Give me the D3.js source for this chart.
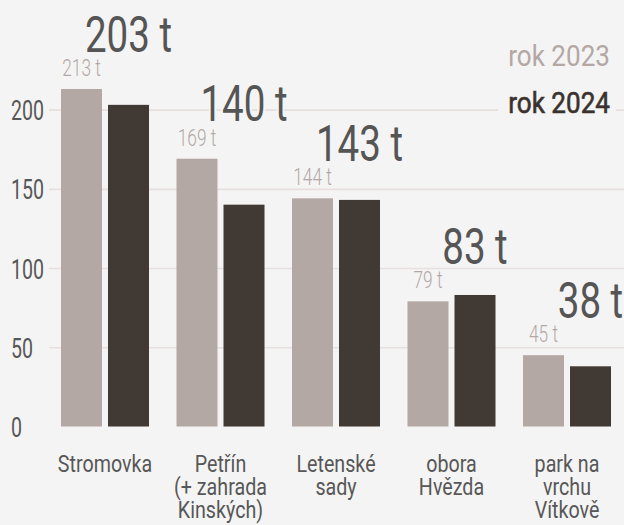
<!DOCTYPE html>
<html>
<head>
<meta charset="utf-8">
<script src="https://cdn.jsdelivr.net/npm/d3@7"></script>
<style>
  html, body { margin: 0; padding: 0; background: #f4f4f4; }
  svg { display: block; }
  text { font-family: Roboto, "Noto Sans", sans-serif; }
</style>
</head>
<body>
<svg id="chart" width="624" height="525"></svg>
<script>
// Park names (one entry per line of the label)
const parks = [
  ["Stromovka"],
  ["Petřín", "(+ zahrada", "Kinských)"],
  ["Letenské", "sady"],
  ["obora", "Hvězda"],
  ["park na", "vrchu", "Vítkově"]
];
// Tonnes per park
const values2023 = [213, 169, 144, 79, 45];
const values2024 = [203, 140, 143, 83, 38];
const years = ["rok 2023", "rok 2024"];
const yTicks = [0, 50, 100, 150, 200];

const colors = { y2023: "#b3a8a4", y2024: "#413934", grid: "#e6dfdd", text: "#575757", bg: "#f4f4f4" };

// Horizontal squeeze per text style, giving Roboto a condensed cut
const squeeze = { axis: 0.7, small: 0.72, big: 0.77, cat: 0.82, legend: 0.9 };

const W = 624, H = 525;
const svg = d3.select("#chart");
svg.append("rect").attr("width", W).attr("height", H).attr("fill", colors.bg);

const keys = parks.map((p, i) => "p" + i);
const rows = keys.map((k, i) => ({ key: k, lines: parks[i], v23: values2023[i], v24: values2024[i] }));

const x0 = d3.scaleBand().domain(keys).range([47.25, 624.75]).paddingInner(0.238).paddingOuter(0.119);
const x1 = d3.scaleBand().domain(["y2023", "y2024"]).range([0, x0.bandwidth()]).paddingInner(0.1277);
const y = d3.scaleLinear().domain([0, 200]).range([426.5, 109.6]);

// Gridlines and tick labels
const axisX = 49;
const yAxis = d3.axisLeft(y).tickValues(yTicks).tickSize(-(W - axisX)).tickPadding(0);
const gAxis = svg.append("g").attr("transform", `translate(${axisX},0)`).call(yAxis);
gAxis.select(".domain").remove();
gAxis.selectAll(".tick line")
  .attr("stroke", colors.grid).attr("stroke-width", 1.6)
  .attr("opacity", d => d === 0 ? 0 : 1);
gAxis.selectAll(".tick text")
  .attr("x", 0).attr("dy", "0.36em")
  .attr("transform", `translate(${11 - axisX},0) scale(${squeeze.axis},1)`)
  .attr("text-anchor", "start")
  .attr("fill", colors.text)
  .style("font-size", "28px");

// Bars
const groups = svg.append("g").selectAll("g").data(rows).join("g")
  .attr("transform", d => `translate(${x0(d.key)},0)`);

groups.append("rect")
  .attr("x", x1("y2023")).attr("width", x1.bandwidth())
  .attr("y", d => y(d.v23)).attr("height", d => y(0) - y(d.v23))
  .attr("fill", colors.y2023);
groups.append("rect")
  .attr("x", x1("y2024")).attr("width", x1.bandwidth())
  .attr("y", d => y(d.v24)).attr("height", d => y(0) - y(d.v24))
  .attr("fill", colors.y2024);

// 2023 value labels
groups.append("text")
  .attr("transform", d => `translate(${x1("y2023") + x1.bandwidth() / 2},${y(d.v23) - 13}) scale(${squeeze.small},1)`)
  .attr("text-anchor", "middle")
  .attr("fill", colors.y2023)
  .style("font-size", "24px").style("font-weight", 300)
  .text(d => d.v23 + " t");

// 2024 value labels, stacked above the 2023 label
groups.append("text")
  .attr("transform", d => `translate(${x1("y2024") + x1.bandwidth() / 2},${y(d.v23) - 37.5}) scale(${squeeze.big},1)`)
  .attr("text-anchor", "middle")
  .attr("fill", "#555555")
  .attr("stroke", colors.bg).attr("stroke-width", 5)
  .attr("paint-order", "stroke")
  .style("font-size", "50px")
  .text(d => d.v24 + " t");

// Category labels, one text per line
groups.each(function (d) {
  d3.select(this).selectAll("text.cat").data(d.lines).join("text")
    .attr("class", "cat")
    .attr("transform", (line, i) => `translate(${x0.bandwidth() / 2},${472 + i * 23}) scale(${squeeze.cat},1)`)
    .attr("text-anchor", "middle")
    .attr("fill", colors.text)
    .style("font-size", "24px")
    .text(line => line);
});

// Legend
const legend = svg.append("g");
legend.append("rect").attr("x", 498).attr("y", 86).attr("width", 118).attr("height", 32).attr("fill", colors.bg);
legend.selectAll("text").data(years).join("text")
  .attr("transform", (d, i) => `translate(610,${i === 0 ? 66 : 113}) scale(${squeeze.legend},1)`)
  .attr("text-anchor", "end")
  .attr("fill", (d, i) => i === 0 ? colors.y2023 : "#3a322e")
  .attr("stroke", (d, i) => i === 0 ? "none" : "#3a322e")
  .attr("stroke-width", 0.6)
  .style("font-size", "29px")
  .text(d => d);
</script>
</body>
</html>
